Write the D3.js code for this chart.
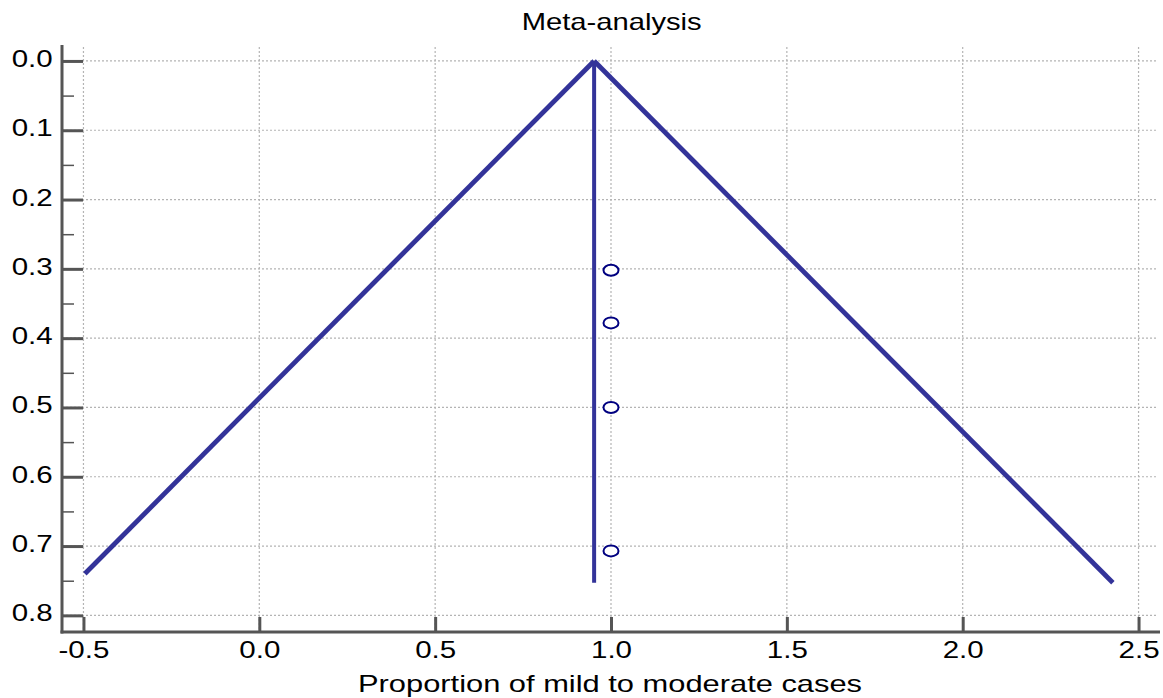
<!DOCTYPE html>
<html>
<head>
<meta charset="utf-8">
<script src="https://cdn.jsdelivr.net/npm/d3@7"></script>
<style>
  html, body { margin: 0; padding: 0; background: #fff; }
  svg { display: block; font-family: "Liberation Sans", Arial, sans-serif; }
</style>
</head>
<body>
<svg id="chart" width="1163" height="698"></svg>
<script>
// Funnel plot: study proportions against their standard errors
const title = "Meta-analysis";
const xLabel = "Proportion of mild to moderate cases";

const xTicks = [-0.5, 0.0, 0.5, 1.0, 1.5, 2.0, 2.5];
const yTicks = [0.0, 0.1, 0.2, 0.3, 0.4, 0.5, 0.6, 0.7, 0.8];
const yMinorTicks = [0.05, 0.15, 0.25, 0.35, 0.45, 0.55, 0.65, 0.75];

// Studies: proportion and standard error
const studyProportion = [1.0, 1.0, 1.0, 1.0];
const studyStdError = [0.302, 0.378, 0.500, 0.707];

// Pooled estimate and the pseudo 95% confidence limits
const pooledEstimate = 0.952;
const pooledLineSE = [0.0, 0.753];
const funnelLeft = [[-0.496, 0.740], [0.952, 0.0]];
const funnelRight = [[0.952, 0.0], [2.427, 0.753]];

const svg = d3.select("#chart");
const plotLeft = 62, plotRight = 1160, plotTop = 45, plotBottom = 632;

const x = d3.scaleLinear().domain([-0.561, 2.561]).range([plotLeft, plotRight]);
const y = d3.scaleLinear().domain([-0.023, 0.824]).range([plotTop, plotBottom]);

const axisColor = "#555555";
const gridColor = "#b4b4b4";
const lineColor = "#333399";
const fontFamily = "'Liberation Sans', Arial, sans-serif";
const labelSize = 24;
const stretch = 1.23; // wide lettering

// Grid
const grid = svg.append("g");
grid.selectAll("line.vg").data(xTicks).join("line")
  .attr("x1", d => x(d)).attr("x2", d => x(d))
  .attr("y1", plotTop + 2).attr("y2", plotBottom)
  .attr("stroke", gridColor).attr("stroke-width", 1.2)
  .attr("stroke-dasharray", "2,2");
grid.selectAll("line.hg").data(yTicks).join("line")
  .attr("x1", plotLeft).attr("x2", plotRight - 2)
  .attr("y1", d => y(d)).attr("y2", d => y(d))
  .attr("stroke", gridColor).attr("stroke-width", 1.2)
  .attr("stroke-dasharray", "2,2");

// Y axis: ticks point inward
const yAxis = d3.axisRight(y).tickValues(yTicks).tickFormat(d3.format(".1f")).tickSize(21).tickSizeOuter(0);
const gy = svg.append("g").attr("transform", `translate(${plotLeft},0)`).call(yAxis);
gy.select(".domain").remove();
gy.selectAll(".tick line").attr("stroke", axisColor).attr("stroke-width", 3);
gy.selectAll(".tick text")
  .attr("x", -9.3 / stretch).attr("y", 5.5).attr("dy", 0).attr("text-anchor", "end")
  .attr("transform", `scale(${stretch},1)`)
  .attr("font-size", labelSize).attr("fill", "#000")
  .attr("font-family", fontFamily);

const gyMinor = svg.append("g").attr("transform", `translate(${plotLeft},0)`)
  .call(d3.axisRight(y).tickValues(yMinorTicks).tickSize(12).tickFormat(""));
gyMinor.select(".domain").remove();
gyMinor.selectAll(".tick line").attr("stroke", axisColor).attr("stroke-width", 1.5);

// X axis: ticks point inward
const xAxis = d3.axisTop(x).tickValues(xTicks).tickFormat(d3.format(".1f")).tickSize(15).tickSizeOuter(0);
const gx = svg.append("g").attr("transform", `translate(0,${plotBottom})`).call(xAxis);
gx.select(".domain").remove();
gx.selectAll(".tick line").attr("stroke", axisColor).attr("stroke-width", 3);
gx.selectAll(".tick text")
  .text(d => d < 0 ? "-" + d3.format(".1f")(-d) : d3.format(".1f")(d))
  .attr("x", 0).attr("y", 26).attr("dy", 0).attr("text-anchor", "middle")
  .attr("transform", `scale(${stretch},1)`)
  .attr("font-size", labelSize).attr("fill", "#000")
  .attr("font-family", fontFamily);

// Axis lines
svg.append("line").attr("x1", plotLeft).attr("x2", plotLeft).attr("y1", plotTop).attr("y2", plotBottom + 1.5)
  .attr("stroke", axisColor).attr("stroke-width", 3);
svg.append("line").attr("x1", plotLeft - 1.5).attr("x2", plotRight).attr("y1", plotBottom).attr("y2", plotBottom)
  .attr("stroke", axisColor).attr("stroke-width", 3);

// Funnel limits
const line = d3.line().x(d => x(d[0])).y(d => y(d[1]));
svg.append("path").datum(funnelLeft).attr("d", line)
  .attr("fill", "none").attr("stroke", lineColor).attr("stroke-width", 4.8);
svg.append("path").datum(funnelRight).attr("d", line)
  .attr("fill", "none").attr("stroke", lineColor).attr("stroke-width", 4.8);

// Pooled estimate
svg.append("line")
  .attr("x1", x(pooledEstimate)).attr("x2", x(pooledEstimate))
  .attr("y1", y(pooledLineSE[0])).attr("y2", y(pooledLineSE[1]))
  .attr("stroke", lineColor).attr("stroke-width", 4);

// Studies
svg.append("g").selectAll("ellipse").data(studyProportion.map((p, i) => [p, studyStdError[i]])).join("ellipse")
  .attr("cx", d => x(d[0])).attr("cy", d => y(d[1]))
  .attr("rx", 7.5).attr("ry", 5.5)
  .attr("fill", "#fff").attr("stroke", "#000080").attr("stroke-width", 2);

// Title and axis label
svg.append("text").attr("x", 611.7).attr("y", 30).attr("text-anchor", "middle")
  .attr("font-size", labelSize).attr("fill", "#000").attr("font-family", fontFamily)
  .attr("textLength", 180).attr("lengthAdjust", "spacingAndGlyphs").text(title);
svg.append("text").attr("x", 610).attr("y", 692).attr("text-anchor", "middle")
  .attr("font-size", labelSize).attr("fill", "#000").attr("font-family", fontFamily)
  .attr("textLength", 504).attr("lengthAdjust", "spacingAndGlyphs").text(xLabel);
</script>
</body>
</html>
